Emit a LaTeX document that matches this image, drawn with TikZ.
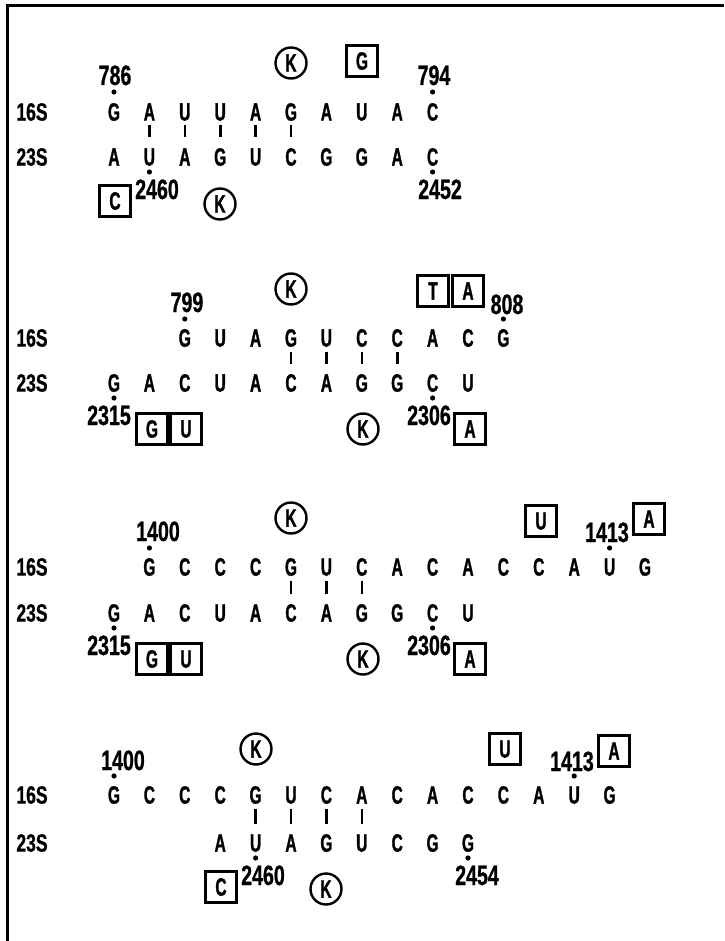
\documentclass[tikz,border=0pt]{standalone}
\usepackage{fontspec}
\newfontfamily\seqfont{Liberation Sans}[FakeStretch=0.62,FakeBold=1.2]
\newfontfamily\numfont{Liberation Sans}[FakeStretch=0.7,FakeBold=0.8]
\newcommand\colx[1]{114+35.4*(#1-1)}
\begin{document}
\begin{tikzpicture}[x=0.5pt,y=-0.5pt,
    base/.style={inner sep=0pt,text height=8.6pt,text depth=0pt,
      font=\seqfont\bfseries\fontsize{12.5}{12.5}\selectfont},
    strand/.style={inner sep=0pt,text height=8.6pt,text depth=0pt,
      font=\numfont\bfseries\fontsize{12.5}{12.5}\selectfont},
    num/.style={inner sep=0pt,text height=10pt,text depth=0pt,
      font=\numfont\bfseries\fontsize{14}{14}\selectfont},
    subst/.style={base,draw,line width=1.5pt,minimum size=15.5pt},
    prot/.style={base,circle,draw,line width=1.2pt,minimum size=15.5pt},
    enddot/.style={circle,fill,inner sep=0pt,minimum size=2.6pt},
    pairtick/.style={line width=1.3pt,shorten <=2.25pt,shorten >=5.25pt}]
  \useasboundingbox (0,0) rectangle (724,941);
  \draw[line width=1.5pt] (7,941) -- (7,6) -- (724,6);

  % 786-794 / 2452-2460
  \node[strand] (p1s) at (32,112) {16S};
  \node[strand] (p1r) at (32,157) {23S};
  \foreach \ch [count=\i] in {G,A,U,U,A,G,A,U,A,C}
    \node[base] (s1-\i) at ({\colx{\i}},112) {\ch};
  \foreach \ch [count=\i] in {A,U,A,G,U,C,G,G,A,C}
    \node[base] (r1-\i) at ({\colx{\i}},157) {\ch};
  \foreach \i in {2,...,6}
    \draw[pairtick] (s1-\i) -- (r1-\i);
  \node[enddot] (d1a) at ({\colx{1}},92) {};
  \node[enddot] (d1b) at ({\colx{10}},92) {};
  \node[enddot] (d1c) at ({\colx{2}},172) {};
  \node[enddot] (d1d) at ({\colx{10}},172) {};
  \node[num] (n786) at (115,75) {786};
  \node[num] (n794) at (434,75) {794};
  \node[num] (n2460a) at (157,189) {2460};
  \node[num] (n2452) at (440,189) {2452};
  \node[prot] (k1a) at (291,63) {K};
  \node[subst] (b1g) at (362,61) {G};
  \node[subst] (b1c) at (115,201) {C};
  \node[prot] (k1b) at (220,204) {K};

  % 799-808 / 2306-2315
  \node[strand] (p2s) at (32,338) {16S};
  \node[strand] (p2r) at (32,383) {23S};
  \foreach \ch [count=\i from 3] in {G,U,A,G,U,C,C,A,C,G}
    \node[base] (s2-\i) at ({\colx{\i}},338) {\ch};
  \foreach \ch [count=\i] in {G,A,C,U,A,C,A,G,G,C,U}
    \node[base] (r2-\i) at ({\colx{\i}},383) {\ch};
  \foreach \i in {6,...,9}
    \draw[pairtick] (s2-\i) -- (r2-\i);
  \node[enddot] (d2a) at ({\colx{3}},319) {};
  \node[enddot] (d2b) at ({\colx{12}},319) {};
  \node[enddot] (d2c) at ({\colx{1}},398) {};
  \node[enddot] (d2d) at ({\colx{10}},398) {};
  \node[num] (n799) at (187,302) {799};
  \node[num] (n808) at (507,304) {808};
  \node[num] (n2315a) at (109,415) {2315};
  \node[num] (n2306a) at (429,415) {2306};
  \node[prot] (k2a) at (291,289) {K};
  \node[subst] (b2t) at (433,291) {T};
  \node[subst] (b2a) at (468,291) {A};
  \node[subst] (b2g) at (152,429) {G};
  \node[subst] (b2u) at (186,429) {U};
  \node[prot] (k2b) at (363,429) {K};
  \node[subst] (b2b) at (470,429) {A};

  % 1400-1413 / 2306-2315
  \node[strand] (p3s) at (32,567) {16S};
  \node[strand] (p3r) at (32,613) {23S};
  \foreach \ch [count=\i from 2] in {G,C,C,C,G,U,C,A,C,A,C,C,A,U,G}
    \node[base] (s3-\i) at ({\colx{\i}},567) {\ch};
  \foreach \ch [count=\i] in {G,A,C,U,A,C,A,G,G,C,U}
    \node[base] (r3-\i) at ({\colx{\i}},613) {\ch};
  \foreach \i in {6,...,8}
    \draw[pairtick] (s3-\i) -- (r3-\i);
  \node[enddot] (d3a) at ({\colx{2}},548) {};
  \node[enddot] (d3b) at ({\colx{15}},548) {};
  \node[enddot] (d3c) at ({\colx{1}},628) {};
  \node[enddot] (d3d) at ({\colx{10}},628) {};
  \node[num] (n1400a) at (158,531) {1400};
  \node[num] (n1413a) at (607,532) {1413};
  \node[num] (n2315b) at (109,645) {2315};
  \node[num] (n2306b) at (429,645) {2306};
  \node[prot] (k3a) at (291,518) {K};
  \node[subst] (b3u) at (541,521) {U};
  \node[subst] (b3a) at (649,519) {A};
  \node[subst] (b3g) at (152,659) {G};
  \node[subst] (b3v) at (186,659) {U};
  \node[prot] (k3b) at (363,659) {K};
  \node[subst] (b3b) at (470,659) {A};

  % 1400-1413 / 2454-2460
  \node[strand] (p4s) at (32,795) {16S};
  \node[strand] (p4r) at (32,843) {23S};
  \foreach \ch [count=\i] in {G,C,C,C,G,U,C,A,C,A,C,C,A,U,G}
    \node[base] (s4-\i) at ({\colx{\i}},795) {\ch};
  \foreach \ch [count=\i from 4] in {A,U,A,G,U,C,G,G}
    \node[base] (r4-\i) at ({\colx{\i}},843) {\ch};
  \foreach \i in {5,...,8}
    \draw[pairtick] (s4-\i) -- (r4-\i);
  \node[enddot] (d4a) at ({\colx{1}},776) {};
  \node[enddot] (d4b) at ({\colx{14}},776) {};
  \node[enddot] (d4c) at ({\colx{5}},858) {};
  \node[enddot] (d4d) at ({\colx{11}},858) {};
  \node[num] (n1400b) at (123,760) {1400};
  \node[num] (n1413b) at (572,761) {1413};
  \node[num] (n2460b) at (263,875) {2460};
  \node[num] (n2454) at (477,875) {2454};
  \node[prot] (k4a) at (256,749) {K};
  \node[subst] (b4u) at (505,749) {U};
  \node[subst] (b4a) at (614,751) {A};
  \node[subst] (b4c) at (221,887) {C};
  \node[prot] (k4b) at (326,889) {K};
\end{tikzpicture}
\end{document}
